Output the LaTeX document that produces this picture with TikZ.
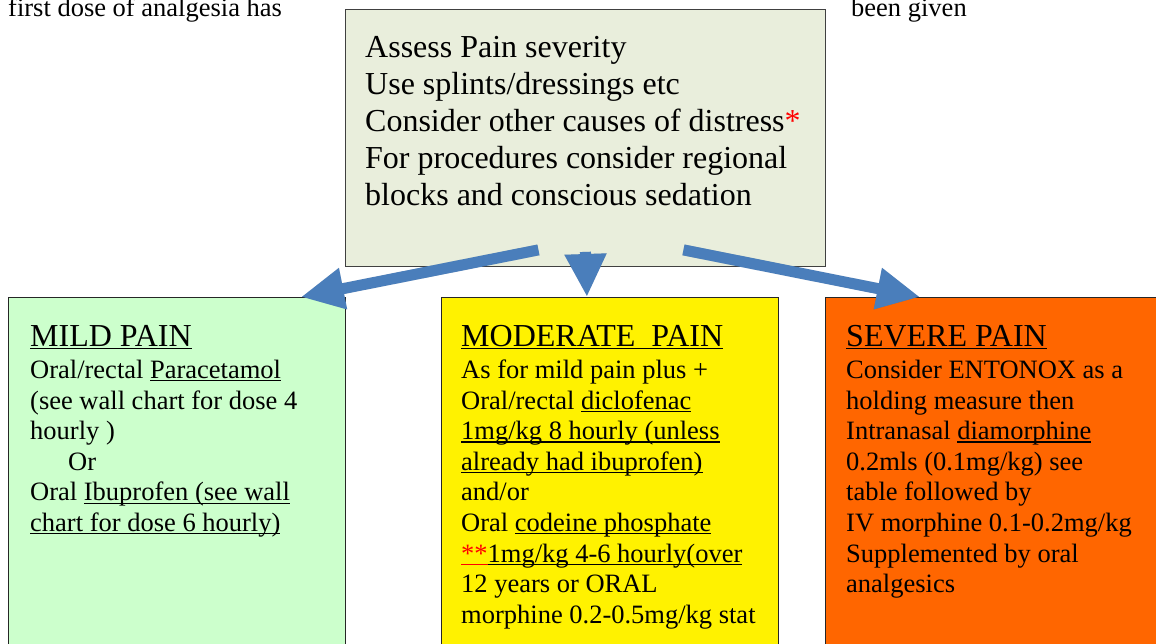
\documentclass[tikz,border=0pt]{standalone}
\usepackage{fontspec}
\setmainfont{Liberation Serif}
\usetikzlibrary{arrows.meta,calc}

\definecolor{assessfill}{RGB}{233,238,220}
\definecolor{mildfill}{RGB}{204,255,204}
\definecolor{severefill}{RGB}{255,102,0}
\definecolor{arrowblue}{RGB}{74,126,187}

\tikzset{
  box/.style={draw=black!85, line width=0.9pt, anchor=north west, inner sep=0pt},
  boxtext/.style={anchor=north west, inner sep=0pt, align=left, font=\fontsize{26.5}{30.6}\selectfont},
  pain/.style={line width=11pt, arrowblue, -{Triangle[length=43pt,width=39pt]}},
  painshadow/.style={line width=11pt, black, opacity=0.12, -{Triangle[length=43pt,width=39pt]}, shift={(3,4)}},
}
\newcommand{\uline}[1]{\setbox0\hbox{#1}\rlap{\rule[-3pt]{\wd0}{1.2pt}}\box0}
\newcommand{\head}[1]{{\fontsize{32}{36}\selectfont\uline{#1}}}

\begin{document}
\begin{tikzpicture}[x=1pt,y=-1pt]
\useasboundingbox (0,0) rectangle (1156,644);
% notes at the top edge
\node[anchor=base west, inner sep=0pt, font=\fontsize{26.5}{30}\selectfont] (noteleft) at (8,17) {first dose of analgesia has};
\node[anchor=base west, inner sep=0pt, font=\fontsize{26.5}{30}\selectfont] (noteright) at (851,17) {been given};
% boxes
\node[box, draw=black!75, fill=assessfill, minimum width=480pt, minimum height=257pt] (assess) at (345,9) {};
\node[box, fill=mildfill, minimum width=337pt, minimum height=400pt] (mild) at (8,297) {};
\node[box, fill=yellow, minimum width=337pt, minimum height=400pt] (moderate) at (441,297) {};
\node[box, fill=severefill, minimum width=331pt, minimum height=400pt] (severe) at (825,297) {};
% texts
\node[boxtext, font=\fontsize{32}{36.8}\selectfont] (assesstext) at ($(assess.north west)+(20,27.5)$)
  {Assess Pain severity\\
   Use splints/dressings etc\\
   Consider other causes of distress{\color{red}*}\\
   For procedures consider regional\\
   blocks and conscious sedation};
\node[boxtext] (mildtext) at ($(mild.north west)+(22,28)$)
  {\head{MILD PAIN}\\[1.5pt]
   Oral/rectal \uline{Paracetamol}\\
   (see wall chart for dose 4\\
   hourly )\\
   \hspace*{38pt}Or\\
   Oral \uline{Ibuprofen (see wall}\\
   \uline{chart for dose 6 hourly)}};
\node[boxtext] (moderatetext) at ($(moderate.north west)+(20,28)$)
  {\head{MODERATE\ \ PAIN}\\[1.5pt]
   As for mild pain plus +\\
   Oral/rectal \uline{diclofenac}\\
   \uline{1mg/kg 8 hourly (unless}\\
   \uline{already had ibuprofen)}\\
   and/or\\
   Oral \uline{codeine phosphate}\\
   {\color{red}\uline{**}}\uline{1mg/kg 4-6 hourly(over}\\
   12 years or ORAL\\
   morphine 0.2-0.5mg/kg stat};
\node[boxtext] (severetext) at ($(severe.north west)+(21,28)$)
  {\head{SEVERE PAIN}\\[1.5pt]
   Consider ENTONOX as a\\
   holding measure then\\
   Intranasal \uline{diamorphine}\\
   0.2mls (0.1mg/kg) see\\
   table followed by\\
   IV morphine 0.1-0.2mg/kg\\
   Supplemented by oral\\
   analgesics};
% arrows
\draw[painshadow] ($(assess.south)+(-47,-17)$) -- ($(mild.north east)+(-45,0)$);
\draw[painshadow] ($(assess.south)+(0,-15)$) -- ($(moderate.north)+(-23,0)$);
\draw[painshadow] ($(assess.south)+(98,-17)$) -- ($(severe.north west)+(95,0)$);
\draw[pain] ($(assess.south)+(-47,-17)$) -- ($(mild.north east)+(-45,0)$);
\draw[pain] ($(assess.south)+(0,-15)$) -- ($(moderate.north)+(-23,0)$);
\draw[pain] ($(assess.south)+(98,-17)$) -- ($(severe.north west)+(95,0)$);
\end{tikzpicture}
\end{document}
